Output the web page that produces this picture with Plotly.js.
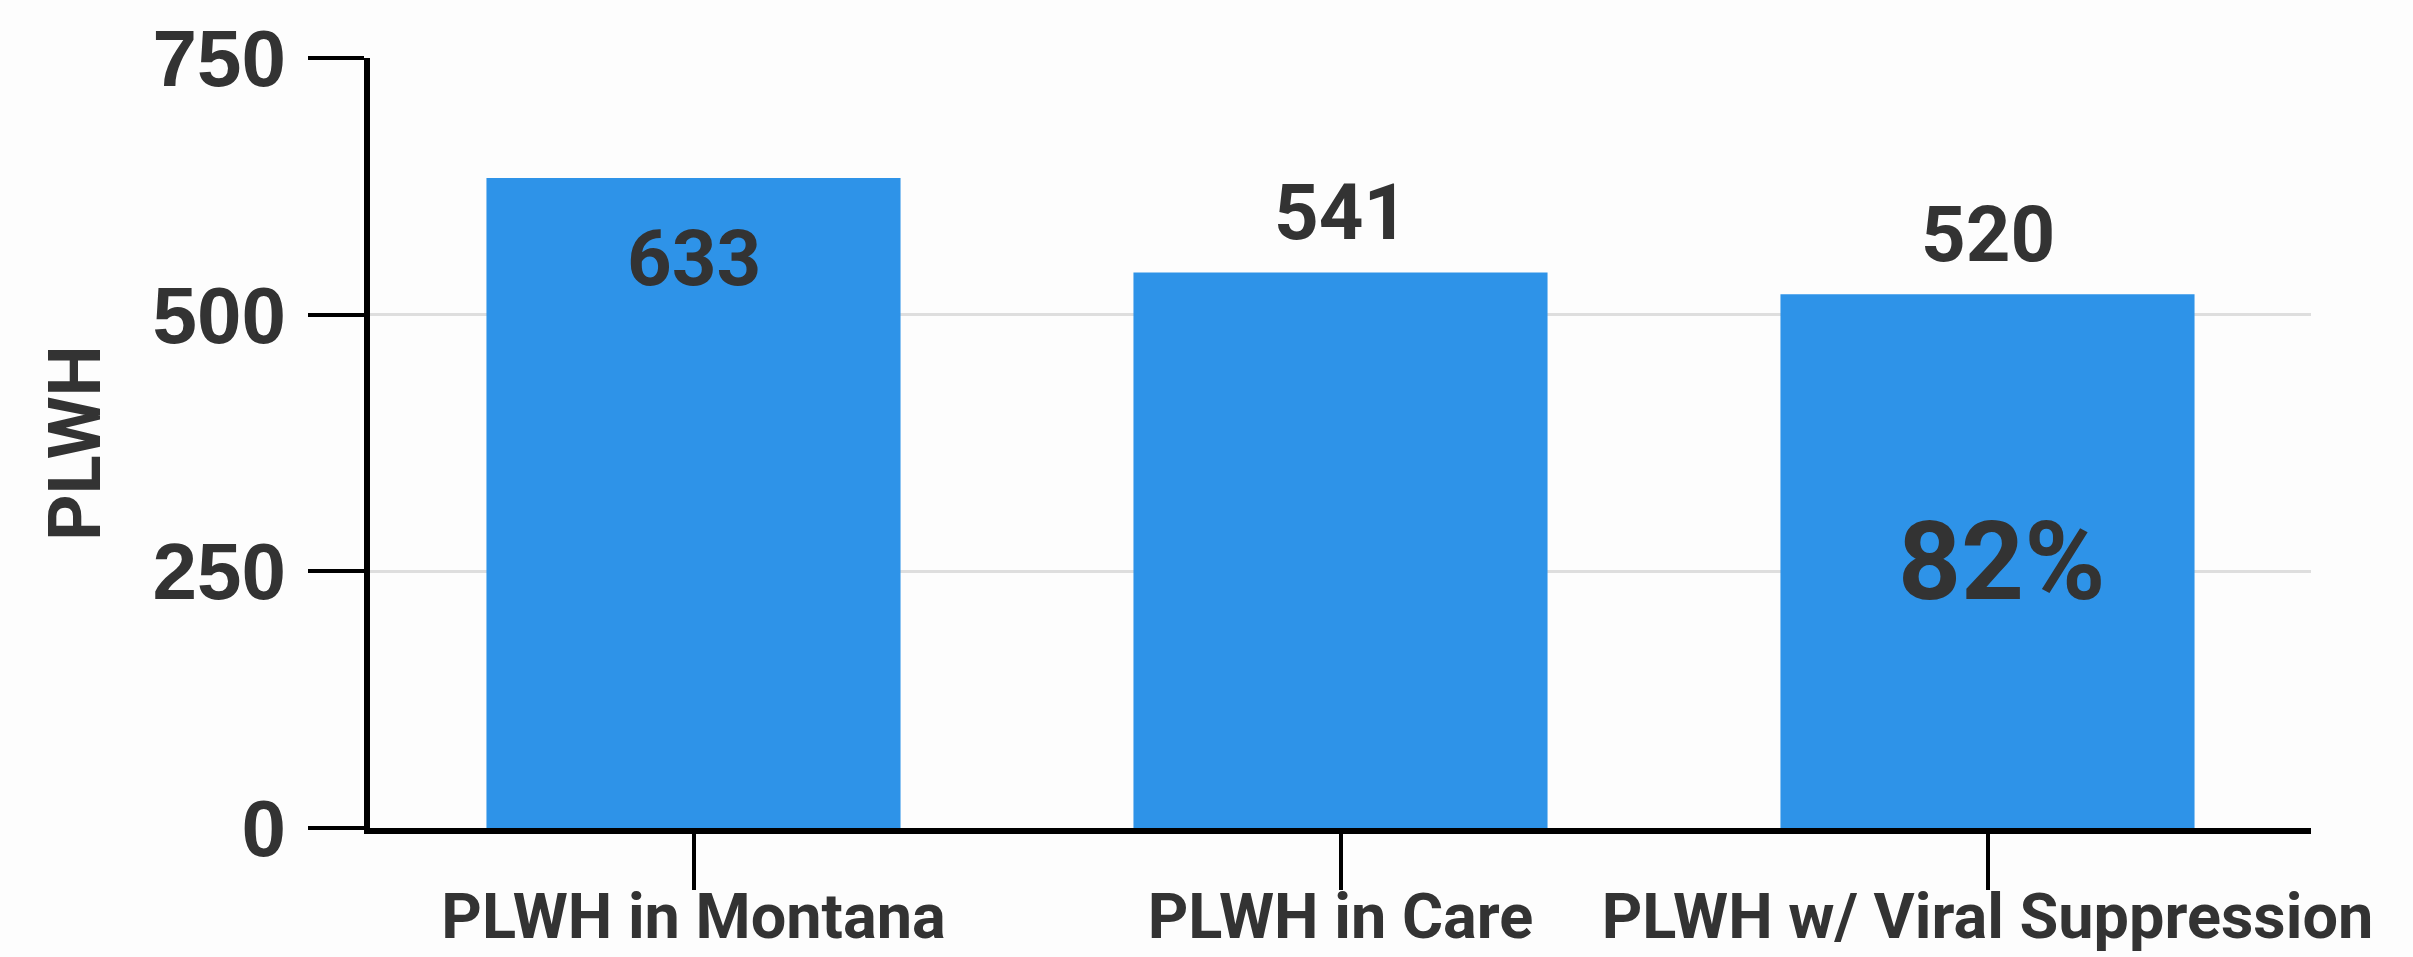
<!DOCTYPE html>
<html>
<head>
<meta charset="utf-8">
<script src="https://cdn.plot.ly/plotly-3.0.1.min.js"></script>
<style>
  html, body { margin: 0; padding: 0; background: #fdfdfd; }
  #chart { width: 2413px; height: 957px; }
</style>
</head>
<body>
<div id="chart"></div>
<script>
// ---- data ----
const categories = ["PLWH in Montana", "PLWH in Care", "PLWH w/ Viral Suppression"];
const values = [633, 541, 520];
const yTickValues = [0, 250, 500, 750];
const yTickLabels = ["0", "250", "500", "750"];
const yTitle = "PLWH";

// ---- styling ----
const narrow = "Roboto, 'DejaVu Sans Condensed', sans-serif";
const wide = "'Liberation Sans', Arial, sans-serif";
const textColor = "#333333";
const barColor = "#2E93E8";

const pct = Math.round(values[2] / values[0] * 100) + "%";

function nfont(size) {
  return { family: narrow, size: size, color: textColor, weight: 700 };
}

const trace = {
  type: "bar",
  x: categories,
  y: values,
  marker: { color: barColor },
  hoverinfo: "x+y",
  showlegend: false
};

const annotations = values.map((v, i) => ({
  x: categories[i],
  y: v,
  xref: "x",
  yref: "y",
  text: String(v),
  showarrow: false,
  yanchor: "middle",
  yshift: i === 0 ? -80 : 60,
  font: nfont(78)
}));

annotations.push({
  x: categories[2],
  y: values[2] / 2,
  xref: "x",
  yref: "y",
  text: pct,
  showarrow: false,
  yanchor: "middle",
  xshift: 14,
  font: nfont(110)
});

const layout = {
  width: 2413,
  height: 957,
  margin: { l: 370, r: 102, t: 58, b: 129, pad: 0 },
  paper_bgcolor: "#fdfdfd",
  plot_bgcolor: "#fdfdfd",
  bargap: 0.36,
  xaxis: {
    type: "category",
    showline: true,
    linecolor: "#000000",
    linewidth: 6,
    ticks: "outside",
    ticklen: 56,
    tickwidth: 4,
    tickcolor: "#000000",
    tickangle: 0,
    ticklabelstandoff: -28,
    showgrid: false,
    tickfont: nfont(63),
    automargin: false
  },
  yaxis: {
    range: [0, 750],
    tickvals: yTickValues,
    ticktext: yTickLabels,
    showline: true,
    linecolor: "#000000",
    linewidth: 6,
    ticks: "outside",
    ticklen: 56,
    tickwidth: 4,
    tickcolor: "#000000",
    ticklabelstandoff: 6,
    showgrid: true,
    gridcolor: "#dedede",
    gridwidth: 3,
    zeroline: false,
    tickfont: { family: wide, size: 80, color: textColor, weight: 700 },
    title: {
      text: yTitle,
      font: nfont(72),
      standoff: 30
    },
    automargin: false
  },
  annotations: annotations
};

Plotly.newPlot("chart", [trace], layout, { displayModeBar: false, staticPlot: true });
</script>
</body>
</html>
